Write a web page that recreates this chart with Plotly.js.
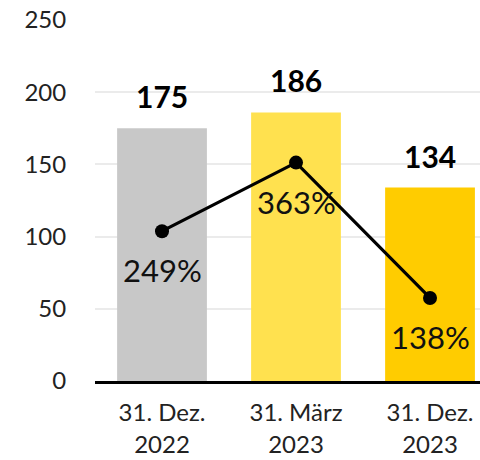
<!DOCTYPE html>
<html><head><meta charset="utf-8">
<script src="https://cdn.plot.ly/plotly-3.0.1.min.js"></script>
<style>html,body{margin:0;padding:0;background:#fff}#c{width:480px;height:460px}</style>
</head><body><div id="c"></div>
<script>
const categories = ["31. Dez.<br>2022", "31. März<br>2023", "31. Dez.<br>2023"];
const barValues = [175, 186, 134];
const barColors = ["#c8c8c8", "#ffe14f", "#ffcc00"];
const ratioValues = [249, 363, 138];
const ratioLabels = ["249%", "363%", "138%"];
const yTicks = [0, 50, 100, 150, 200, 250];

const FONT = "Lato, 'Open Sans', sans-serif";
const traces = [
  {type: "bar", x: categories, y: barValues, marker: {color: barColors}, width: 0.67, hoverinfo: "none"},
  {type: "scatter", mode: "lines+markers", x: categories, y: ratioValues, yaxis: "y2",
   line: {color: "#000", width: 3.2}, marker: {color: "#000", size: 14}, cliponaxis: false}
];
const barAnn = categories.map((c, i) => ({
  x: c, y: barValues[i], xref: "x", yref: "y", text: "<b>" + barValues[i] + "</b>",
  showarrow: false, yanchor: "bottom", yshift: 12,
  font: {family: FONT, size: 30, color: "#000"}
}));
const ratioAnn = categories.map((c, i) => ({
  x: c, y: ratioValues[i], xref: "x", yref: "y2", text: ratioLabels[i],
  showarrow: false, yanchor: "middle", yshift: -39,
  font: {family: FONT, size: 31, color: "#111"}
}));
const layout = {
  width: 480, height: 460,
  margin: {l: 95, r: 0, t: 20, b: 79},
  paper_bgcolor: "#fff", plot_bgcolor: "#fff",
  showlegend: false,
  font: {family: FONT, color: "#222"},
  xaxis: {type: "category", range: [-0.5, 2.373], showgrid: false, zeroline: false,
    showline: true, linecolor: "#000", linewidth: 2.5,
    ticks: "outside", ticklen: 9, tickcolor: "rgba(0,0,0,0)",
    tickfont: {family: FONT, size: 24, color: "#222"}},
  yaxis: {range: [0, 250], tickvals: yTicks, showgrid: true, gridcolor: "#ebebeb", gridwidth: 2,
    zeroline: false, ticks: "outside", ticklen: 23, tickcolor: "rgba(0,0,0,0)",
    tickfont: {family: FONT, size: 24, color: "#222"}},
  yaxis2: {range: [0, 600], overlaying: "y", side: "right", visible: false},
  annotations: barAnn.concat(ratioAnn)
};
Plotly.newPlot("c", traces, layout, {displayModeBar: false, staticPlot: true});
</script></body></html>
